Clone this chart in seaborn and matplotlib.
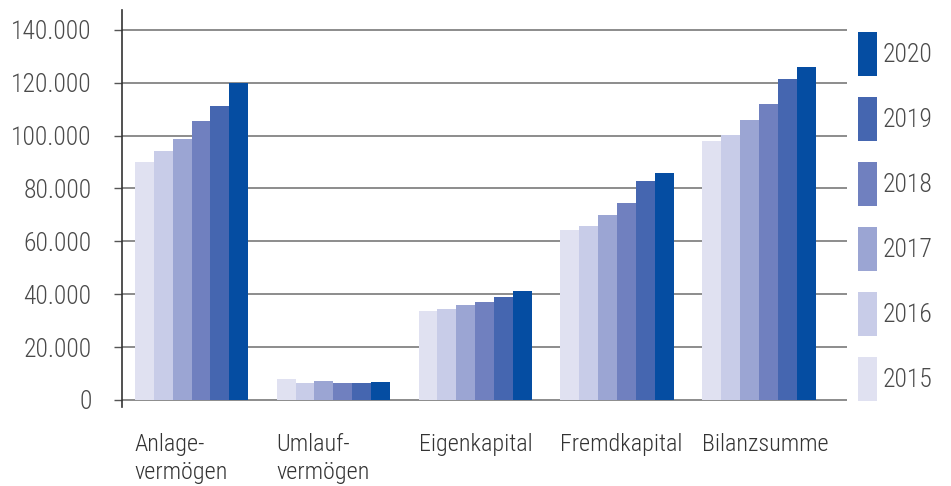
import matplotlib
matplotlib.use("Agg")
import matplotlib.pyplot as plt
from matplotlib import font_manager
from matplotlib.font_manager import FontProperties
from matplotlib.patches import Patch
from matplotlib.ticker import FuncFormatter
import seaborn as sns
import pandas as pd

categories = ["Anlage-\nvermögen", "Umlauf-\nvermögen", "Eigenkapital", "Fremdkapital", "Bilanzsumme"]
years = ["2015", "2016", "2017", "2018", "2019", "2020"]
v2015 = [90000, 7800, 33700, 64300, 98000]
v2016 = [94200, 6300, 34400, 65800, 100300]
v2017 = [98800, 7200, 35900, 70000, 105900]
v2018 = [105600, 6500, 37100, 74500, 112000]
v2019 = [111300, 6500, 39000, 82900, 121500]
v2020 = [119800, 6900, 41200, 85900, 126000]
colors = ["#E0E1F1", "#C8CCE8", "#9BA5D3", "#7080BF", "#4566B0", "#054DA2"]
yticks = [0, 20000, 40000, 60000, 80000, 100000, 120000, 140000]

series = [v2015, v2016, v2017, v2018, v2019, v2020]
rows = []
for y, vals in zip(years, series):
    for c, v in zip(categories, vals):
        rows.append({"cat": c, "year": y, "val": v})
df = pd.DataFrame(rows)

sns.set_style("white")

# pick a condensed sans font if one is installed (prefer light weight)
def find_font():
    entries = font_manager.fontManager.ttflist
    prefs = ["Roboto Condensed", "Liberation Sans Narrow", "Noto Sans Condensed",
             "Open Sans Condensed", "DejaVu Sans Condensed"]
    for wanted in ((300, "light"), (400, "normal", "regular")):
        for p in prefs:
            for e in entries:
                if e.name == p and e.style == "normal" and e.weight in wanted:
                    return FontProperties(fname=e.fname)
    for e in entries:
        fn = e.fname.lower()
        if ("condensed" in fn or "narrow" in fn) and "semi" not in fn and "extra" not in fn \
                and "bold" not in fn and "italic" not in fn and "mono" not in fn:
            if "light" in fn or "regular" in fn or fn.endswith("condensed.ttf") or fn.endswith("narrow.ttf"):
                return FontProperties(fname=e.fname)
    return FontProperties(family="Roboto", weight="light")

base_fp = find_font()
plt.rcParams["font.family"] = ["Roboto", "DejaVu Sans"]

fig = plt.figure(figsize=(9.51, 4.86), dpi=100)
renderer = fig.canvas.get_renderer()

def fit_size(txt, target_px, ref=20):
    fp = base_fp.copy()
    fp.set_size(ref)
    t = fig.text(0, 0, txt, fontproperties=fp)
    w = t.get_window_extent(renderer).width
    t.remove()
    return ref * target_px / w

ytick_fs = fit_size("140.000", 81)
leg_fs = fit_size("2020", 50)
xlab_fs = fit_size("Eigenkapital", 113)

def fp_size(s):
    fp = base_fp.copy()
    fp.set_size(s)
    return fp

ax = fig.add_axes([122 / 951, 1 - 406.6 / 486, (847 - 122) / 951, (406.6 - 10) / 486])

sns.barplot(data=df, x="cat", y="val", hue="year", order=categories, hue_order=years,
            palette=colors, width=0.8, saturation=1, linewidth=0, legend=False, ax=ax)

ax.set_xlim(-0.49, 4.62)
ax.set_ylim(-2500, 147500)
ax.set_yticks(yticks)
ax.yaxis.set_major_formatter(FuncFormatter(lambda v, p: f"{int(v):,}".replace(",", ".")))
ax.grid(axis="y", color="#8c8c8c", linewidth=1.4)
ax.grid(axis="x", visible=False)
ax.set_axisbelow(True)
for s in ["top", "right", "bottom"]:
    ax.spines[s].set_visible(False)
ax.spines["left"].set_color("#333333")
ax.spines["left"].set_linewidth(1.2)
ax.tick_params(axis="y", length=6, width=1, color="#555555", labelcolor="#4a4a4a", pad=16, left=True)
for lab in ax.get_yticklabels():
    lab.set_fontproperties(fp_size(ytick_fs))

ax.set_xticks([i - 0.4 for i in range(len(categories))])
ax.set_xticklabels(categories, ha="left", va="top", color="#333333", linespacing=1.28)
for lab in ax.get_xticklabels():
    lab.set_fontproperties(fp_size(xlab_fs))
ax.tick_params(axis="x", length=0, pad=19)
ax.set_xlabel("")
ax.set_ylabel("")

# legend geometry (pixels -> points)
pt = 100 / 72.0
patch_h = 44 / pt
h_hand = (patch_h - 0.245 * leg_fs) / (0.65 * leg_fs)
handles = [Patch(facecolor=c, edgecolor="none", label=y) for c, y in zip(colors, years)][::-1]
fig.legend(handles=handles, loc="upper left", bbox_to_anchor=(858 / 951, 1 - 32 / 486),
           frameon=False, prop=fp_size(leg_fs), labelcolor="#4a4a4a",
           handlelength=(19 / pt) / leg_fs, handleheight=h_hand,
           labelspacing=(21 / pt) / leg_fs, handletextpad=(6 / pt) / leg_fs,
           borderpad=0, borderaxespad=0)

fig.savefig("out.png", dpi=100)
